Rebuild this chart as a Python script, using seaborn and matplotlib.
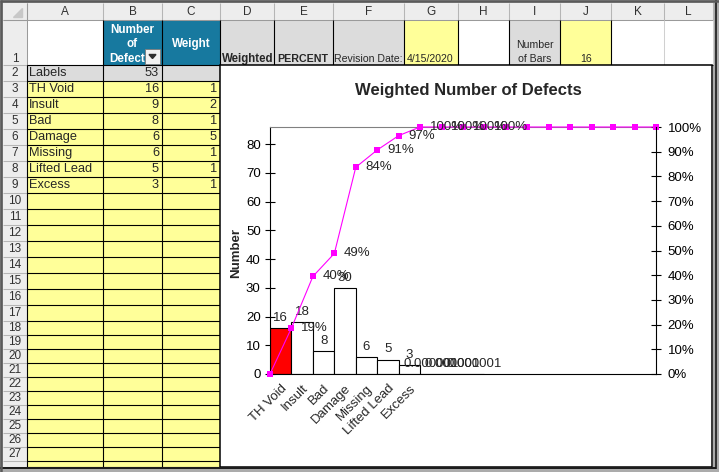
import numpy as np
import seaborn as sns
import matplotlib.pyplot as plt
from matplotlib.patches import Rectangle, Polygon
from matplotlib.ticker import StrMethodFormatter

# sheet data
defect_labels = ['TH Void', 'Insult', 'Bad', 'Damage', 'Missing', 'Lifted Lead', 'Excess']
defect_counts = [16, 9, 8, 6, 6, 5, 3]
defect_weights = [1, 2, 1, 5, 1, 1, 1]
total_defects = 53
revision_date = '4/15/2020'
number_of_bars = 16

# chart data (weighted bars + cumulative percent line)
weighted_counts = [16, 18, 8, 30, 6, 5, 3, 0.000001, 0.000001, 0.000001]
cum_percent = [0, 18.6, 39.5, 48.8, 83.7, 90.7, 96.51, 100, 100, 100,
               100, 100, 100, 100, 100, 100, 100, 100, 100]
n_slots = 18
y_max = 86

sns.set_theme(style='white')
plt.rcParams['font.family'] = ['Liberation Sans', 'DejaVu Sans']

W, H = 719, 472
fig = plt.figure(figsize=(W / 100, H / 100), dpi=100)
fig.patch.set_facecolor('#ABABAB')
bg = fig.add_axes([0, 0, 1, 1])
bg.set_xlim(0, W)
bg.set_ylim(H, 0)
bg.axis('off')

BLUE = '#17799F'
GRAY = '#DCDCDC'
YELLOW = '#FFFF99'
HDR = '#EDEDED'
BOTTOM = 467


def px_rect(x0, y0, x1, y1, fc, ec='none', lw=0, z=1):
    bg.add_patch(Rectangle((x0, y0), x1 - x0, y1 - y0, facecolor=fc,
                           edgecolor=ec, linewidth=lw, zorder=z))


def px_line(xs, ys, color, lw=0.75, z=2):
    bg.plot(xs, ys, color=color, lw=lw, zorder=z, solid_capstyle='butt')


col_x = [3, 27, 103, 162, 220, 274, 333, 404, 458, 509, 560, 611, 664, 713]
col_names = list('ABCDEFGHIJKL')
edges = [20] + [65 + 16 * k for k in range(16)] + [321] + [335 + 14 * k for k in range(11)]
edges = [min(e, BOTTOM) for e in edges]

# sheet background + headers
px_rect(3, 3, 713, BOTTOM, 'white')
px_rect(3, 3, 713, 20, HDR)
px_rect(3, 20, 27, BOTTOM, HDR)
for x in col_x[1:]:
    px_line([x, x], [3, 20], '#B5B5B5')
for i, name in enumerate(col_names):
    bg.text((col_x[i + 1] + col_x[i + 2]) / 2, 12, name, ha='center', va='center',
            fontsize=8.5, color='#303030')
for y in edges:
    px_line([3, 27], [y, y], '#B5B5B5')
for r in range(1, 29):
    y0, y1 = edges[r - 1], edges[r]
    if y1 - y0 < 8:
        continue
    ty = 58.5 if r == 1 else (y0 + y1) / 2
    bg.text(15, ty, str(r), ha='center', va='center', fontsize=8.5, color='#303030')
bg.add_patch(Polygon([[22, 8], [22, 17], [13, 17]], closed=True, color='#C8C8C8', zorder=2))
px_line([3, 713], [20, 20], '#9A9A9A')
px_line([27, 27], [3, BOTTOM], '#9A9A9A')


def cell(col, r, fc):
    i = col_names.index(col)
    px_rect(col_x[i + 1], edges[r - 1], col_x[i + 2], edges[r], fc)


# row 1 fills
for col, fc in [('B', BLUE), ('C', BLUE), ('D', GRAY), ('E', GRAY), ('F', GRAY),
                ('G', YELLOW), ('I', GRAY), ('J', YELLOW)]:
    cell(col, 1, fc)
for col in 'ABC':
    cell(col, 2, GRAY)
    for r in range(3, 29):
        cell(col, r, YELLOW)

# light grid for white cells in row 1
for x in [664, 713]:
    px_line([x, x], [20, 65], '#D0D0D0')
# black borders
for x in [103, 162, 220, 274, 333, 404, 458, 509, 560, 611]:
    px_line([x, x], [20, 65], 'black', lw=0.8, z=3)
px_line([27, 713], [65, 65], 'black', lw=0.8, z=3)
for x in [27, 103, 162, 220]:
    px_line([x, x], [65, BOTTOM], 'black', lw=0.8, z=3)
for y in edges[2:]:
    px_line([27, 220], [y, y], 'black', lw=0.8, z=3)

# row 1 texts
wb = dict(color='white', fontweight='bold', fontsize=8.4, ha='center', va='center')
bg.text(132, 30, 'Number', **wb)
bg.text(132, 44, 'of', **wb)
bg.text(127, 58.5, 'Defect', **wb)
bg.text(191, 44, 'Weight', **wb)
px_rect(145, 49, 160, 64, '#F2F2F2', ec='#7A7A7A', lw=0.6, z=3)
bg.add_patch(Polygon([[149, 54.5], [156, 54.5], [152.5, 58.5]], closed=True, color='#303030', zorder=4))
bg.text(222, 59, 'Weighted', fontweight='bold', fontsize=8.3, ha='left', va='center', zorder=4)
bg.text(277, 59, 'PERCENT', fontweight='bold', fontsize=7.7, ha='left', va='center')
bg.text(403, 59, 'Revision Date:', fontsize=7.6, ha='right', va='center')
bg.text(407, 59, revision_date, fontsize=7.6, ha='left', va='center')
bg.text(535, 45, 'Number', fontsize=7.6, ha='center', va='center')
bg.text(535, 59, 'of Bars', fontsize=7.6, ha='center', va='center')
bg.text(586, 59, str(number_of_bars), fontsize=7.6, ha='center', va='center')

# rows 2-9
bg.text(29, 73, 'Labels', fontsize=9.2, ha='left', va='center')
bg.text(159, 73, str(total_defects), fontsize=9.2, ha='right', va='center')
for k, (lab, cnt, wt) in enumerate(zip(defect_labels, defect_counts, defect_weights)):
    y = (edges[k + 2] + edges[k + 3]) / 2
    bg.text(29, y, lab, fontsize=9.2, ha='left', va='center')
    bg.text(159, y, str(cnt), fontsize=9.2, ha='right', va='center')
    bg.text(217, y, str(wt), fontsize=9.2, ha='right', va='center')

# chart object box and window frame
px_rect(219.5, 64.5, 712, 466.5, 'white', ec='black', lw=1.1, z=5)
px_rect(714, 0, 719, 472, '#ABABAB', z=6)
px_line([715.5, 715.5], [0, 468.5], '#1A1A1A', lw=1.2, z=7)
px_rect(0, 467, 719, 472, '#ABABAB', z=6)
px_line([0, 716], [468, 468], '#1A1A1A', lw=1.4, z=7)
px_line([0, 719], [1.2, 1.2], '#5A5A5A', lw=1.8, z=7)
px_line([1.2, 1.2], [0, 472], '#5A5A5A', lw=1.8, z=7)

bg.text(468, 90, 'Weighted Number of Defects', ha='center', va='center',
        fontsize=12, fontweight='bold', zorder=6)

# chart axes
ax = fig.add_axes([270 / W, 1 - 374 / H, 386 / W, 247 / H])
ax.patch.set_facecolor('white')
slots = np.arange(len(weighted_counts))
sns.barplot(x=slots, y=weighted_counts, native_scale=True, orient='x', width=1,
            color='white', saturation=1, edgecolor='black', linewidth=0.8,
            errorbar=None, ax=ax)
ax.patches[0].set_facecolor('#FF0000')
bar_text = [f'{v:g}' if v >= 1 else f'{v:.6f}' for v in weighted_counts]
ax.bar_label(ax.containers[0], labels=bar_text, padding=3, fontsize=9.5)

ax.set_xlim(-0.5, n_slots - 0.5)
ax.set_ylim(0, y_max)
ax.set_yticks(range(0, 81, 10))
ax.set_xticks(range(len(defect_labels)))
ax.set_xticklabels(defect_labels, rotation=45, ha='right', va='top',
                   rotation_mode='anchor', fontsize=9.5)
ax.tick_params(axis='x', length=0, pad=6)
ax.tick_params(axis='y', direction='inout', length=7, width=0.8, pad=3.2,
               labelsize=9.5, colors='black', left=True)
ax.set_ylabel('Number', fontweight='bold', fontsize=9.5)
ax.yaxis.set_label_coords(-0.0725, 0.49)
ax.set_xlabel('')
for s in ['left', 'bottom']:
    ax.spines[s].set_color('black')
    ax.spines[s].set_linewidth(0.8)
ax.spines['top'].set_color('#808080')
ax.spines['top'].set_linewidth(0.8)
ax.spines['right'].set_visible(False)

ax2 = ax.twinx()
edge_x = np.arange(n_slots + 1) - 0.5
sns.lineplot(x=edge_x, y=cum_percent, ax=ax2, color='#FF00FF', marker='s',
             markersize=4.5, markeredgewidth=0, linewidth=0.8)
for ln in ax2.lines:
    ln.set_clip_on(False)
ax2.set_ylim(0, 100)
ax2.set_yticks(range(0, 101, 10))
ax2.yaxis.set_major_formatter(StrMethodFormatter('{x:.0f}%'))
ax2.tick_params(axis='y', direction='inout', length=7, width=0.8, pad=5,
                labelsize=9.5, colors='black', right=True)
for s in ['left', 'top', 'bottom']:
    ax2.spines[s].set_visible(False)
ax2.spines['right'].set_color('black')
ax2.spines['right'].set_linewidth(0.8)
ax2.set_ylabel('')
for k in range(1, len(weighted_counts) + 1):
    ax2.annotate(f'{cum_percent[k]:.0f}%', (edge_x[k], cum_percent[k]),
                 xytext=(7, 0), textcoords='offset points', ha='left', va='center',
                 fontsize=9.5, annotation_clip=False)

fig.savefig('out.png', dpi=100, facecolor=fig.get_facecolor())
